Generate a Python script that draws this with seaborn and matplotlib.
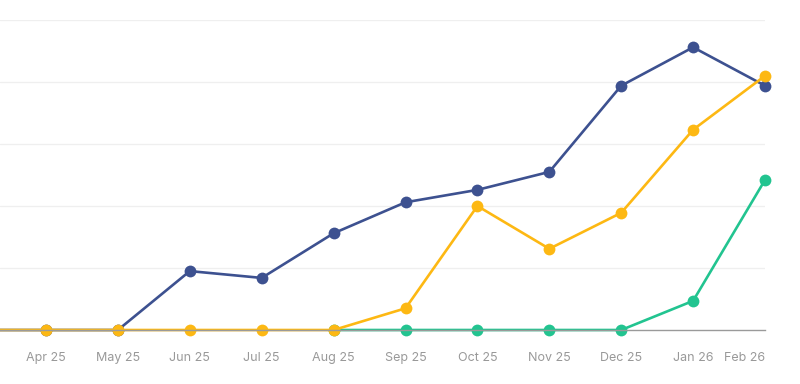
import pandas as pd
import matplotlib.pyplot as plt
import seaborn as sns


# =====================
# Data
# =====================

months = [
    "Mar 25", "Apr 25", "May 25", "Jun 25", "Jul 25", "Aug 25",
    "Sep 25", "Oct 25", "Nov 25", "Dec 25", "Jan 26", "Feb 26"
]

navy_values = [0, 0, 0, 0.95, 0.84, 1.56, 2.06, 2.26, 2.55, 3.94, 4.56, 3.94]
yellow_values = [0, 0, 0, 0, 0, 0, 0.35, 2.0, 1.31, 1.89, 3.23, 4.10]
green_values = [None, None, None, None, None, 0, 0, 0, 0, 0, 0.47, 2.42]

series_names = ["A", "C", "B"]
series_colors = ["#3d5190", "#22c490", "#fdb813"]


# =====================
# Long table
# =====================

rows = []
for name, vals in zip(["A", "B", "C"], [navy_values, yellow_values, green_values]):
    for i, (m, v) in enumerate(zip(months, vals)):
        if v is not None:
            rows.append({"pos": i, "month": m, "series": name, "value": v})

df = pd.DataFrame(rows)


# =====================
# Plot
# =====================

sns.set_style("white")
plt.rcParams["font.family"] = ["Inter", "DejaVu Sans"]

fig = plt.figure(figsize=(8, 3.84), dpi=100)
ax = fig.add_axes([0, 54 / 384, 765 / 800, 310 / 384])

for y in [1, 2, 3, 4, 5]:
    ax.axhline(y, color="#efefef", linewidth=0.9, zorder=0)

sns.lineplot(
    data=df,
    x="pos",
    y="value",
    hue="series",
    hue_order=series_names,
    palette=series_colors,
    marker="o",
    markersize=8.5,
    markeredgewidth=0,
    linewidth=1.9,
    legend=False,
    clip_on=False,
    ax=ax
)

ax.set_xlim(1 - 0.64, 11)
ax.set_ylim(0, 5)

ax.set_xticks(range(1, len(months)))
ax.set_xticklabels(months[1:])
ax.get_xticklabels()[-1].set_ha("right")
ax.set_yticks([])

ax.set_xlabel("")
ax.set_ylabel("")

for side in ["top", "left", "right"]:
    ax.spines[side].set_visible(False)

ax.spines["bottom"].set_color("#9a9a9a")
ax.spines["bottom"].set_linewidth(1.0)

ax.tick_params(
    axis="x",
    direction="out",
    length=4,
    width=1,
    color="#444444",
    labelcolor="#999999",
    labelsize=9,
    pad=12
)

plt.savefig("out.png", dpi=100)
plt.close()
